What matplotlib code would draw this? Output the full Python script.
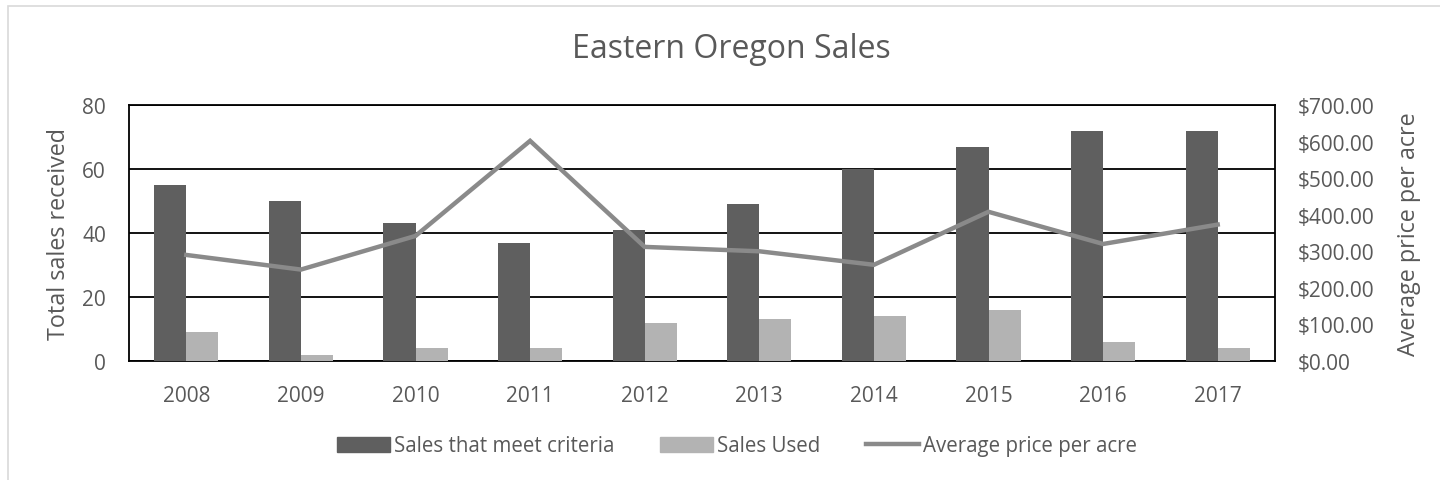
import numpy as np
import matplotlib.pyplot as plt
from matplotlib.patches import Patch, Rectangle
from matplotlib.lines import Line2D
from matplotlib.ticker import FuncFormatter

years = ["2008", "2009", "2010", "2011", "2012", "2013", "2014", "2015", "2016", "2017"]
sales_meet = [55, 50, 43, 37, 41, 49, 60, 67, 72, 72]
sales_used = [9, 2, 4, 4, 12, 13, 14, 16, 6, 4]
avg_price = [290, 250, 342, 602, 312, 300, 263, 408, 320, 373]

txt = "#595959"
dark = "#5f5f5f"
light = "#b3b3b3"
line_c = "#8a8a8a"

plt.rcParams['font.family'] = ['Open Sans', 'DejaVu Sans']

fig = plt.figure(figsize=(14.4, 4.81), dpi=100)
ax = fig.add_axes([129 / 1440, 1 - 362 / 481, (1275 - 129) / 1440, (362 - 106) / 481])

# chart area border (Excel style, cropped at right/bottom)
fig.patches.append(Rectangle((8 / 1440, -0.1), 1.2, 1 - 7 / 481 + 0.1, transform=fig.transFigure,
                             fill=False, edgecolor="#d9d9d9", linewidth=1.2))

x = np.arange(len(years))
w = 0.28
ax.bar(x - w / 2, sales_meet, w, color=dark, zorder=3)
ax.bar(x + w / 2, sales_used, w, color=light, zorder=3)
ax.set_xlim(-0.5, len(years) - 0.5)
ax.set_ylim(0, 80)
ax.set_yticks([0, 20, 40, 60, 80])
ax.yaxis.grid(True, color="black", linewidth=1.3, zorder=1)
ax.set_xticks(x)
ax.set_xticklabels(years)
for s in ax.spines.values():
    s.set_color("black")
    s.set_linewidth(1.3)
ax.tick_params(axis="both", length=0, colors=txt, labelsize=15)
ax.tick_params(axis="x", pad=17)
ax.tick_params(axis="y", pad=16.5)
ax.set_ylabel("Total sales received", color=txt, fontsize=16.8, labelpad=8)

ax2 = ax.twinx()
ax2.plot(x, avg_price, color=line_c, linewidth=3.2, zorder=4, solid_joinstyle="miter")
ax2.set_ylim(0, 700)
ax2.set_yticks(np.arange(0, 701, 100))
ax2.yaxis.set_major_formatter(FuncFormatter(lambda v, p: "${:,.2f}".format(v)))
ax2.tick_params(axis="y", length=0, colors=txt, labelsize=15, pad=16.5)
for s in ax2.spines.values():
    s.set_visible(False)
ax2.set_ylabel("Average price per acre", color=txt, fontsize=16.8, labelpad=16)

fig.text(0.5 + 11 / 1440, 1 - 50 / 481, "Eastern Oregon Sales", ha="center", va="center",
         color=txt, fontsize=23)

handles = [Patch(color=dark), Patch(color=light), Line2D([0], [0], color=line_c, linewidth=3.2)]
labels = ["Sales that meet criteria", "Sales Used", "Average price per acre"]
fig.legend(handles, labels, loc="center", bbox_to_anchor=(737 / 1440, 1 - 447 / 481), ncol=3,
           frameon=False, fontsize=14.8, labelcolor=txt, handlelength=2.57, handletextpad=0.2,
           columnspacing=2.23)

fig.savefig("out.png", dpi=100)
